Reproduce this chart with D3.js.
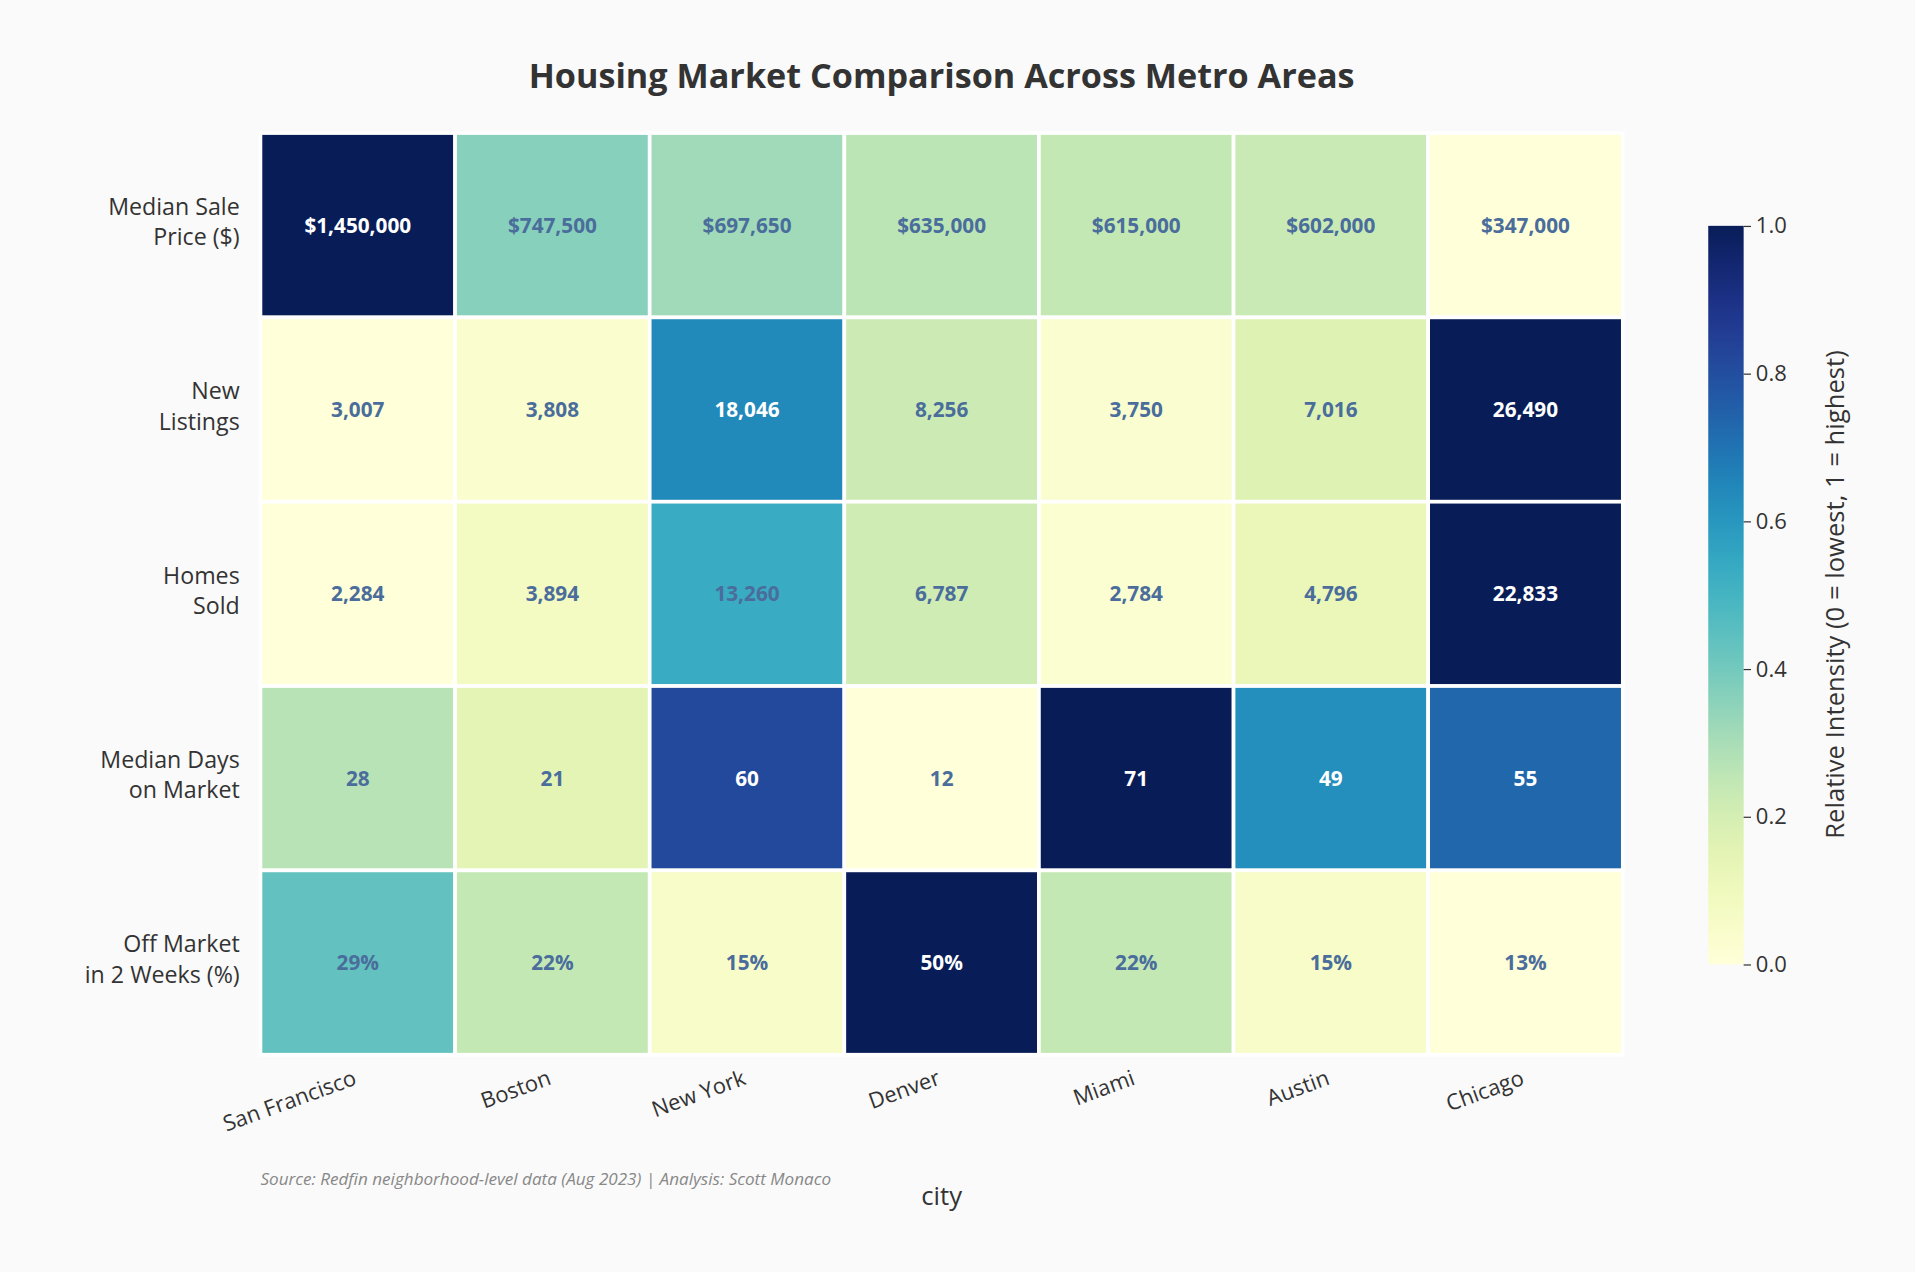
<!DOCTYPE html><html><head><meta charset="utf-8"><script src="https://d3js.org/d3.v7.min.js"></script>
<style>body{margin:0;background:#fafafa}text{font-family:"Open Sans","Noto Sans",sans-serif}</style></head><body><script>
const cities=["San Francisco","Boston","New York","Denver","Miami","Austin","Chicago"];
const metrics=["Median Sale\nPrice ($)","New\nListings","Homes\nSold","Median Days\non Market","Off Market\nin 2 Weeks (%)"];
const salePrice=[1450000,747500,697650,635000,615000,602000,347000];
const newListings=[3007,3808,18046,8256,3750,7016,26490];
const homesSold=[2284,3894,13260,6787,2784,4796,22833];
const daysOnMarket=[28,21,60,12,71,49,55];
const offMarket2w=[29,22,15,50,22,15,13];
const cbTicks=[0,0.2,0.4,0.6,0.8,1.0];
const rows=[salePrice,newListings,homesSold,daysOnMarket,offMarket2w];
const fmts=[v=>"$"+d3.format(",")(v),d3.format(","),d3.format(","),v=>String(v),v=>v+"%"];
const svg=d3.select("body").append("svg").attr("width",1915).attr("height",1272).attr("viewBox","0 0 1568 1042");
svg.append("rect").attr("width",1568).attr("height",1042).attr("fill","#fafafa");
const x=d3.scaleBand().domain(cities).range([213,1329]);
const y=d3.scaleBand().domain(metrics).range([109,864]);
const col=d3.interpolateYlGnBu;
svg.append("text").attr("x",771).attr("y",72).attr("text-anchor","middle").attr("font-size",28).attr("font-weight","bold").attr("fill","#333").text("Housing Market Comparison Across Metro Areas");
rows.forEach((r,i)=>{const mn=d3.min(r),mx=d3.max(r);const m=metrics[i];
 r.forEach((v,j)=>{const n=(v-mn)/(mx-mn);const c=cities[j];
  svg.append("rect").attr("x",x(c)).attr("y",y(m)).attr("width",x.bandwidth()).attr("height",y.bandwidth()).attr("fill",col(n)).attr("stroke","#fff").attr("stroke-width",3);
  svg.append("text").attr("x",x(c)+x.bandwidth()/2).attr("y",y(m)+y.bandwidth()/2+6).attr("text-anchor","middle").attr("font-size",17).attr("font-weight","bold").attr("fill",n>0.6?"#fff":"#4a6d9c").text(fmts[i](v));
 });
 const lines=m.split("\n");
 lines.forEach((l,k)=>svg.append("text").attr("x",196).attr("y",y(m)+y.bandwidth()/2-4+(k-0.5)*25+8).attr("text-anchor","end").attr("font-size",19).attr("fill","#333").text(l));
});
cities.forEach(c=>{const cx=x(c)+x.bandwidth()/2;
 svg.append("text").attr("transform",`translate(${cx},${888}) rotate(-20)`).attr("text-anchor","end").attr("font-size",18).attr("fill","#333").text(c);});
svg.append("text").attr("x",771).attr("y",987).attr("text-anchor","middle").attr("font-size",21).attr("fill","#333").text("city");
svg.append("text").attr("x",213).attr("y",971).attr("font-size",14).attr("font-style","italic").attr("fill","#888").text("Source: Redfin neighborhood-level data (Aug 2023) | Analysis: Scott Monaco");
// colorbar
const defs=svg.append("defs");const g=defs.append("linearGradient").attr("id","cb").attr("x1",0).attr("x2",0).attr("y1",1).attr("y2",0);
d3.range(0,1.01,0.05).forEach(t=>g.append("stop").attr("offset",t).attr("stop-color",col(t)));
const cy=d3.scaleLinear().domain([0,1]).range([790,185]);
svg.append("rect").attr("x",1399).attr("y",185).attr("width",29).attr("height",605).attr("fill","url(#cb)");
const ax=svg.append("g").attr("transform","translate(1428,0)").call(d3.axisRight(cy).tickValues(cbTicks).tickFormat(d3.format(".1f")).tickSize(6));
ax.select(".domain").remove();ax.selectAll("line").attr("stroke","#333");ax.selectAll("text").attr("font-size",18).attr("fill","#333").attr("x",10);
svg.append("text").attr("transform","translate(1510,487) rotate(-90)").attr("text-anchor","middle").attr("font-size",21).attr("fill","#333").text("Relative Intensity (0 = lowest, 1 = highest)");
</script></body></html>
